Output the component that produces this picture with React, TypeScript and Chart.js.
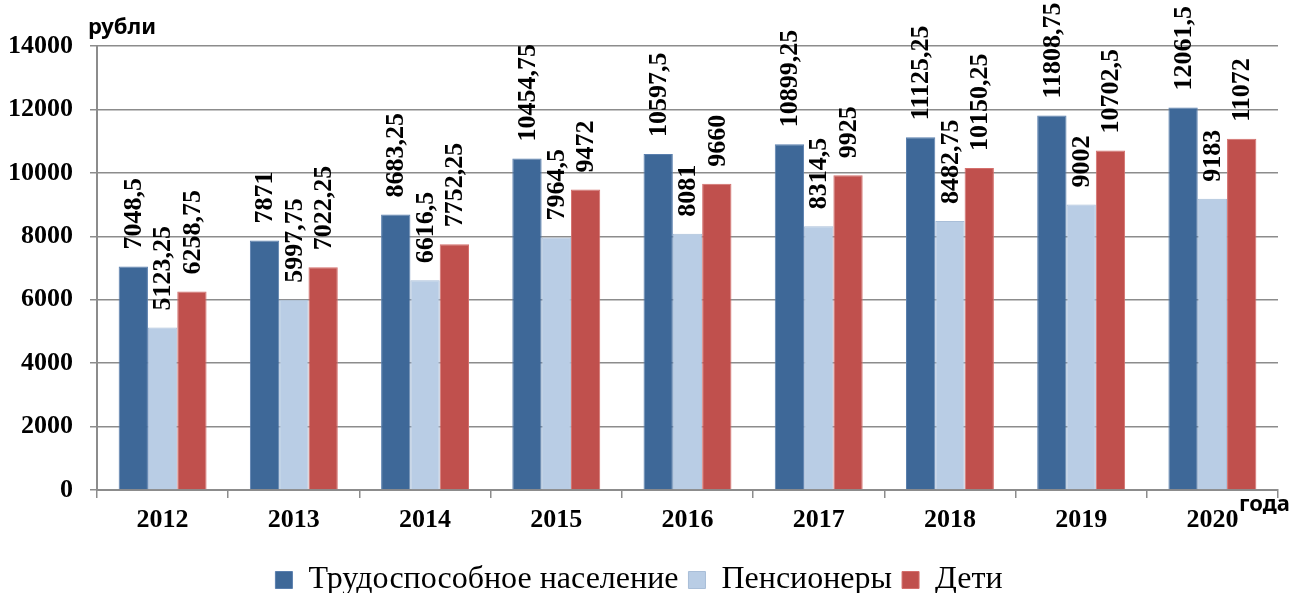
import React, { useEffect, useRef } from "react";
import { Chart, registerables } from "chart.js";

Chart.register(...registerables);

const categories = ["2012", "2013", "2014", "2015", "2016", "2017", "2018", "2019", "2020"];
const workingAge = [7048.5, 7871, 8683.25, 10454.75, 10597.5, 10899.25, 11125.25, 11808.75, 12061.5];
const pensioners = [5123.25, 5997.75, 6616.5, 7964.5, 8081, 8314.5, 8482.75, 9002, 9183];
const children = [6258.75, 7022.25, 7752.25, 9472, 9660, 9925, 10150.25, 10702.5, 11072];
const seriesNames = ["Трудоспособное население", "Пенсионеры", "Дети"];
const yTicks = [0, 2000, 4000, 6000, 8000, 10000, 12000, 14000];

const colors = ["#3E6898", "#B9CDE5", "#C0504D"];
const SERIF = "Liberation Serif";

const fmt = (v: number) => String(v).replace(".", ",");

const labelPlugin = {
  id: "barLabels",
  afterLayout(chart: any) {
    const lg = chart.legend;
    if (lg) {
      lg.top += 13;
      lg.bottom += 13;
    }
  },
  afterDatasetsDraw(chart: any) {
    const ctx = chart.ctx;
    ctx.save();
    ctx.font = `bold 26px "${SERIF}"`;
    ctx.fillStyle = "#000";
    ctx.textAlign = "left";
    ctx.textBaseline = "middle";
    chart.data.datasets.forEach((ds: any, di: number) => {
      const meta = chart.getDatasetMeta(di);
      meta.data.forEach((bar: any, i: number) => {
        ctx.save();
        ctx.translate(bar.x + 1, bar.y - 17);
        ctx.rotate(-Math.PI / 2);
        ctx.fillText(fmt(ds.data[i]), 0, 0);
        ctx.restore();
      });
    });
    ctx.font = `bold 22px "Noto Sans"`;
    ctx.textAlign = "left";
    ctx.textBaseline = "alphabetic";
    ctx.fillText("рубли", 88, 34);
    ctx.fillText("года", 1239, 511);
    ctx.restore();
  },
};

export default function App() {
  const ref = useRef<HTMLCanvasElement | null>(null);
  useEffect(() => {
    if (!ref.current) return;
    const chart = new Chart(ref.current, {
      type: "bar",
      data: {
        labels: categories,
        datasets: [
          { label: seriesNames[0], data: workingAge, backgroundColor: colors[0], borderColor: "#5A7FAE", borderWidth: 1 },
          { label: seriesNames[1], data: pensioners, backgroundColor: colors[1], borderColor: "#A9BED8", borderWidth: 1 },
          { label: seriesNames[2], data: children, backgroundColor: colors[2], borderColor: "#D46F6C", borderWidth: 1 },
        ],
      },
      options: {
        animation: false,
        responsive: false,
        maintainAspectRatio: false,
        categoryPercentage: 0.67,
        barPercentage: 1,
        layout: { padding: { top: 46, right: 15, left: 0, bottom: 0 } },
        plugins: {
          legend: {
            position: "bottom",
            labels: {
              boxWidth: 17,
              boxHeight: 17,
              padding: 10,
              color: "#000",
              font: { family: SERIF, size: 32 },
            },
          },
          tooltip: { enabled: false },
        },
        scales: {
          x: {
            grid: { display: true, drawOnChartArea: false, drawTicks: true, tickLength: 8, color: "#8c8c8c", lineWidth: 1.5, offset: true },
            border: { display: true, color: "#8c8c8c", width: 2 },
            ticks: {
              color: "#000",
              padding: 7,
              font: { family: SERIF, size: 26, weight: "bold" },
            },
            afterFit: (s: any) => { s.height = 51; },
          },
          y: {
            min: 0,
            max: 14000,
            afterBuildTicks: (s: any) => { s.ticks = yTicks.map((v) => ({ value: v })); },
            grid: { color: "#8c8c8c", lineWidth: 1.5, tickLength: 7 },
            border: { display: true, color: "#8c8c8c", width: 2 },
            ticks: {
              color: "#000",
              padding: 17,
              callback: (v: any) => String(v),
              font: { family: SERIF, size: 26, weight: "bold" },
            },
            afterFit: (s: any) => { s.width = 97; },
          },
        },
      },
      plugins: [labelPlugin],
    });
    return () => chart.destroy();
  }, []);
  return (
    <div style={{ position: "fixed", left: 0, top: 0, width: 1293, height: 593, background: "#fff" }}>
      <canvas ref={ref} width={1293} height={593} style={{ display: "block" }} />
    </div>
  );
}
